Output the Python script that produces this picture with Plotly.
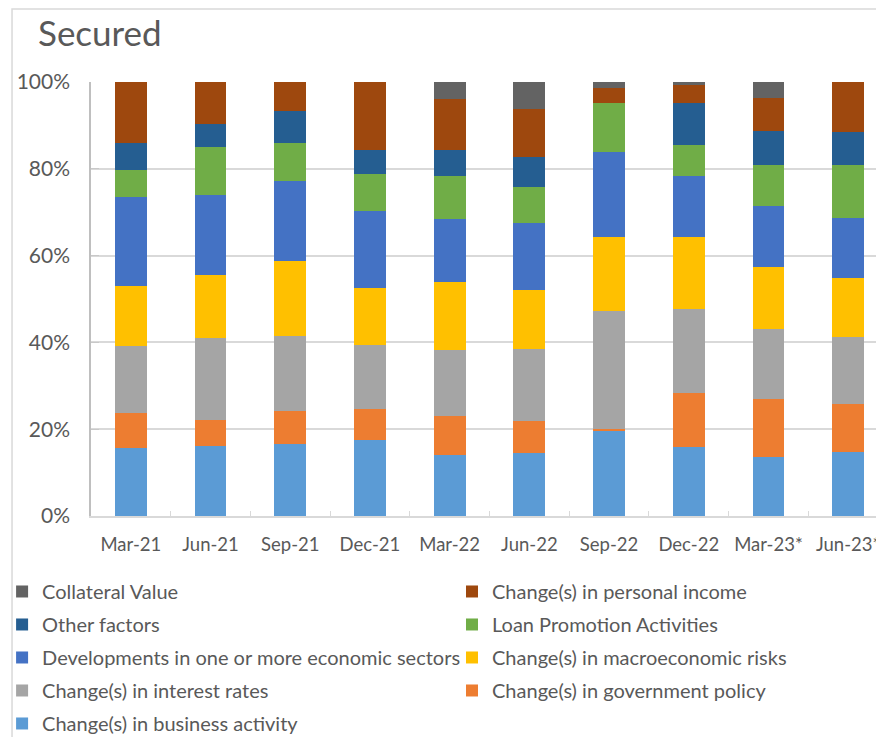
import plotly.graph_objects as go

quarters = ['Mar-21', 'Jun-21', 'Sep-21', 'Dec-21', 'Mar-22', 'Jun-22',
            'Sep-22', 'Dec-22', 'Mar-23*', 'Jun-23*']

# shares in %, bottom of the stack first
business   = [15.6, 16.2, 16.7, 17.4, 14.0, 14.5, 19.5, 15.9, 13.7, 14.6]
government = [8.2, 6.0, 7.6, 7.1, 8.8, 7.5, 0.5, 12.4, 13.2, 11.2]
interest   = [15.3, 18.9, 17.2, 14.9, 15.1, 16.5, 27.2, 19.6, 16.2, 15.2]
macro      = [14.0, 14.5, 17.3, 13.0, 15.4, 13.5, 17.2, 16.6, 14.3, 13.6]
sectors    = [20.3, 18.4, 18.3, 17.8, 14.5, 15.6, 19.5, 14.0, 14.1, 13.8]
promotion  = [6.3, 11.1, 8.8, 8.4, 9.8, 8.3, 11.2, 7.2, 9.3, 12.2]
other      = [6.3, 5.2, 7.4, 5.5, 5.9, 6.8, 0.0, 9.6, 7.9, 7.6]
income     = [14.0, 9.7, 6.7, 15.7, 11.7, 11.1, 3.6, 4.1, 7.5, 11.4]
collateral = [0.0, 0.0, 0.0, 0.0, 3.8, 6.2, 1.3, 0.8, 3.8, 0.0]

pct_ticks = [0, 20, 40, 60, 80, 100]
pct_labels = ['0%', '20%', '40%', '60%', '80%', '100%']

# name, values, colour, legend column, rank inside the column
series = [
    ('Change(s) in business activity', business, '#5B9BD5', 'legend', 5),
    ('Change(s) in government policy', government, '#ED7D31', 'legend2', 4),
    ('Change(s) in interest rates', interest, '#A5A5A5', 'legend', 4),
    ('Change(s) in macroeconomic risks', macro, '#FFC000', 'legend2', 3),
    ('Developments in one or more economic sectors', sectors, '#4472C4', 'legend', 3),
    ('Loan Promotion Activities', promotion, '#70AD47', 'legend2', 2),
    ('Other factors', other, '#255E91', 'legend', 2),
    ('Change(s) in personal income', income, '#9E480E', 'legend2', 1),
    ('Collateral Value', collateral, '#636363', 'legend', 1),
]

fig = go.Figure()
for name, vals, col, leg, rank in series:
    fig.add_trace(go.Bar(x=quarters, y=vals, name=name, legendgroup=name, legend=leg,
                         legendrank=rank, width=0.4,
                         marker=dict(color=col, line=dict(width=0))))

legend_style = dict(orientation='v', traceorder='grouped', tracegroupgap=4,
                    xanchor='left', y=-0.129, yanchor='top', itemwidth=30,
                    bgcolor='rgba(0,0,0,0)',
                    font=dict(size=20, color='#595959'))

fig.update_layout(
    width=884, height=737,
    barmode='stack', barnorm='percent',
    plot_bgcolor='white', paper_bgcolor='white',
    font=dict(family='Lato, sans-serif', color='#595959', size=18),
    title=dict(text='Secured', x=30/884, xanchor='left', y=1-26/737, yanchor='middle',
               pad=dict(l=0, r=0, t=0, b=0),
               font=dict(size=35, color='#595959')),
    margin=dict(l=83, r=0, t=74, b=229, autoexpand=False),
    legend=dict(x=-0.111, **legend_style),
    legend2=dict(x=0.4507, **legend_style),
    xaxis=dict(range=[-0.5, 9.55], showline=True, linecolor='#d9d9d9', linewidth=1.5,
               ticks='inside', tickson='boundaries', ticklen=5, tickcolor='#d9d9d9',
               ticklabelstandoff=11,
               tickfont=dict(size=18.5, color='#595959')),
    yaxis=dict(range=[0, 100], tickvals=pct_ticks, ticktext=pct_labels,
               showgrid=True, gridcolor='#d9d9d9', gridwidth=1.5,
               showline=True, linecolor='#bfbfbf', linewidth=1.5,
               ticks='inside', ticklen=8, tickcolor='#c8c8c8',
               ticklabelstandoff=15,
               tickfont=dict(size=21, color='#595959')),
)

fig.add_shape(type='rect', xref='paper', yref='paper', x0=-0.0986, x1=1.2, y0=-0.6, y1=1.168,
              line=dict(color='#d9d9d9', width=1.5), layer='below')

fig.write_html('out.html')
